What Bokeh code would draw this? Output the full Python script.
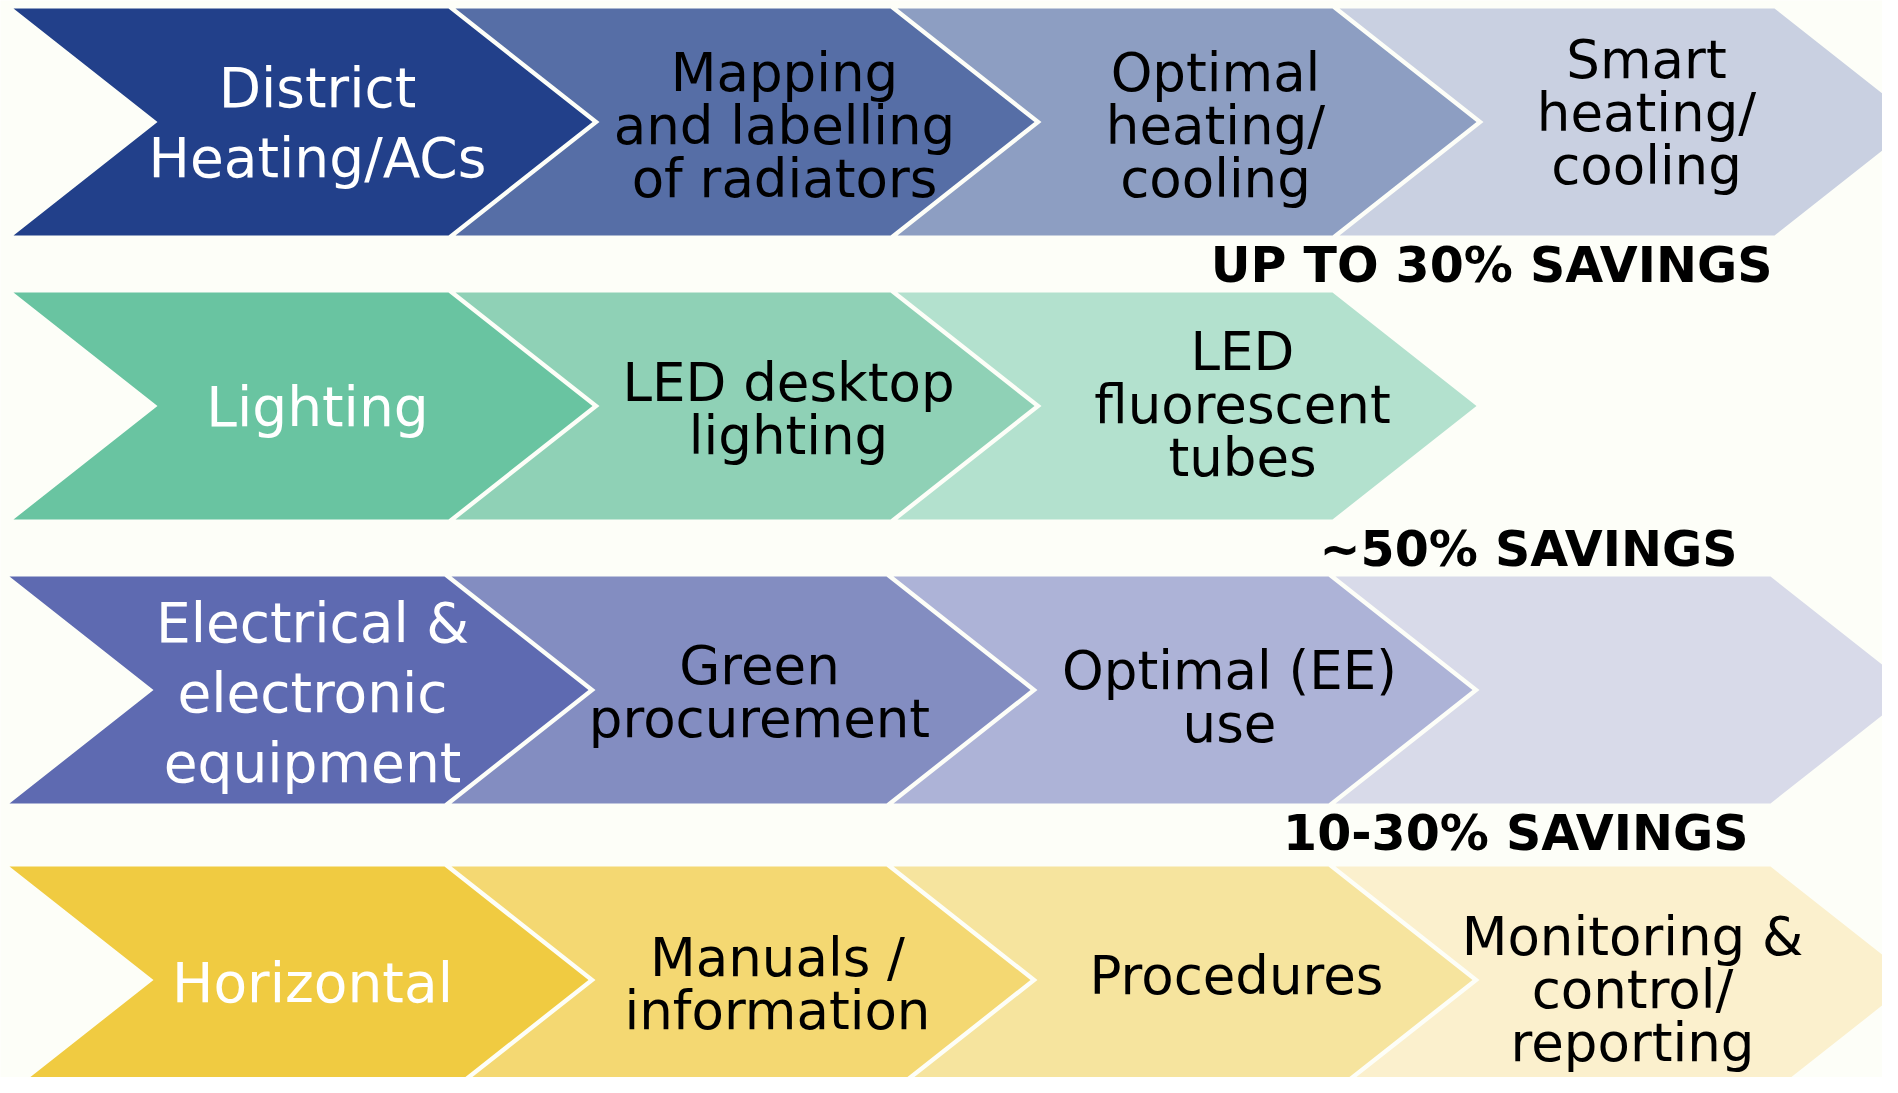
from bokeh.plotting import figure
from bokeh.models import ColumnDataSource, Range1d
from bokeh.core.properties import value, field
from bokeh.embed import file_html
from bokeh.resources import INLINE

# ---------------- data ----------------
heating_steps = ["District\nHeating/ACs", "Mapping\nand labelling\nof radiators",
                 "Optimal\nheating/\ncooling", "Smart\nheating/\ncooling"]
lighting_steps = ["Lighting", "LED desktop\nlighting", "LED\nfluorescent\ntubes"]
equipment_steps = ["Electrical &\nelectronic\nequipment", "Green\nprocurement",
                   "Optimal (EE)\nuse", ""]
horizontal_steps = ["Horizontal", "Manuals /\ninformation", "Procedures",
                    "Monitoring &\ncontrol/\nreporting"]

heating_colors = ["#22408A", "#566EA6", "#8D9EC2", "#C9D0E1"]
lighting_colors = ["#69C4A1", "#8FD1B6", "#B3E1CE"]
equipment_colors = ["#5E6AB1", "#838DC1", "#ADB3D7", "#D8DAE9"]
horizontal_colors = ["#F0CB41", "#F4D872", "#F6E49E", "#FBF0CD"]

savings_labels = ["UP TO 30% SAVINGS", "~50% SAVINGS", "10-30% SAVINGS"]

rows_steps = [heating_steps, lighting_steps, equipment_steps, horizontal_steps]
rows_colors = [heating_colors, lighting_colors, equipment_colors, horizontal_colors]

# ---------------- layout ----------------
BG = "#FDFEF8"
row_top = [8, 292, 576, 866]
row_x0 = [13, 13, 9, 9]
ROW_H = 227
STEP = 442
BODY = 435
DEPTH = 144
# per-step text placement nudges (layout only)
text_dx = [[304, 329, 318, 307], [304, 333, 345], [303, 308, 336, 0], [303, 326, 343, 297]]
text_dy = [[0, 2, 2, -11], [0, 2, -3], [2, 1, 6, 0], [2, 3, -6, 8]]
savings_right = [1772, 1737, 1748]
SAV_BASE_DY = 47
BASE_FIX = 0.34  # bokeh anchor vs. true alphabetic baseline (em)

p = figure(width=1882, height=1077, x_range=Range1d(0, 1882), y_range=Range1d(1077, 0),
           output_backend="svg", toolbar_location=None, min_border=0,
           x_axis_location=None, y_axis_location=None)
p.grid.visible = False
p.outline_line_color = None
p.background_fill_color = BG
p.border_fill_color = BG

xs, ys, fills = [], [], []
tx, ty, tt, tc, ts = [], [], [], [], []
for r, (steps, cols) in enumerate(zip(rows_steps, rows_colors)):
    T = row_top[r]
    mid = T + ROW_H / 2
    for c, (label, col) in enumerate(zip(steps, cols)):
        L = row_x0[r] + c * STEP
        xs.append([L, L + BODY, L + BODY + DEPTH, L + BODY, L, L + DEPTH])
        ys.append([T, T, mid, T + ROW_H, T + ROW_H, mid])
        fills.append(col)
        if not label:
            continue
        lines = label.split("\n")
        if c == 0:
            size, pitch, color = 55, 70, "white"
        else:
            size, pitch, color = 53, 53, "black"
        cap = 0.72 * size
        H = cap + (len(lines) - 1) * pitch
        base0 = mid + text_dy[r][c] - H / 2 + cap
        for k, ln in enumerate(lines):
            tx.append(L + text_dx[r][c])
            ty.append(base0 + k * pitch - BASE_FIX * size)
            tt.append(ln)
            tc.append(color)
            ts.append(f"{size}px")

p.patches(xs, ys, fill_color=fills, line_color=None)

src = ColumnDataSource(dict(x=tx, y=ty, text=tt, color=tc, size=ts))
p.text(x="x", y="y", text="text", source=src, text_color=field("color"),
       text_font_size=field("size"), text_font=value("DejaVu Sans"),
       text_align="center", text_baseline="alphabetic")

SAV_SIZE = 49
sx, sy = [], []
for r, lab in enumerate(savings_labels):
    sx.append(savings_right[r])
    sy.append(row_top[r] + ROW_H + SAV_BASE_DY - BASE_FIX * SAV_SIZE)
p.text(x=sx, y=sy, text=savings_labels, text_color="black", text_font_size=f"{SAV_SIZE}px",
       text_font=value("DejaVu Sans"), text_font_style="bold",
       text_align="right", text_baseline="alphabetic")

open("out.html", "w").write(file_html(p, INLINE))
